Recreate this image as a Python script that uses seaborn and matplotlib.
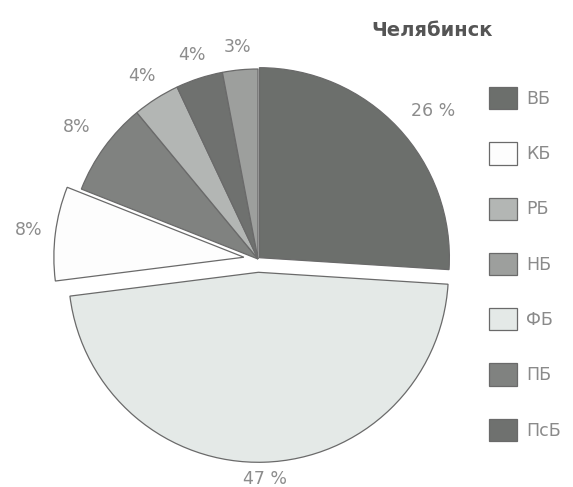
import numpy as np
import matplotlib
matplotlib.use("Agg")
import matplotlib.pyplot as plt
import seaborn as sns

# Budget structure shares, Chelyabinsk (slices clockwise from 12 o'clock)
slice_names = ["ВБ", "ФБ", "КБ", "ПБ", "РБ", "ПсБ", "НБ"]
slice_values = [26, 47, 8, 8, 4, 4, 3]

# Legend order
legend_names = ["ВБ", "КБ", "РБ", "НБ", "ФБ", "ПБ", "ПсБ"]

title_text = "Челябинск"

# Fill colours per category
colors = {
    "ВБ": "#6c6f6c",
    "ФБ": "#e4e9e7",
    "КБ": "#fdfdfd",
    "ПБ": "#808280",
    "РБ": "#b3b6b4",
    "ПсБ": "#6f716f",
    "НБ": "#9d9f9d",
}
explode_by_name = {"ВБ": 0.01, "ФБ": 0.07, "КБ": 0.075}
# radial distance and angular nudge (degrees) of each percentage label
label_radius = {"ВБ": 1.2, "ФБ": 1.09, "КБ": 1.14, "ПБ": 1.18,
                "РБ": 1.14, "ПсБ": 1.13, "НБ": 1.12}
label_turn = {"ВБ": -3}

sns.set_theme(style="white")
plt.rcParams["font.family"] = ["DejaVu Sans"]

W, H = 573, 487
fig = plt.figure(figsize=(W / 100, H / 100), dpi=100)

# square axes so that unit radius spans 190 px, centred at (258, 259) from top-left
L = 1.3
S = 2 * L * 190
cx, cy = 258, H - 259
ax = fig.add_axes([(cx - S / 2) / W, (cy - S / 2) / H, S / W, S / H])

wedges, _ = ax.pie(
    slice_values,
    colors=[colors[n] for n in slice_names],
    explode=[explode_by_name.get(n, 0) for n in slice_names],
    startangle=90,
    counterclock=False,
    radius=1,
    wedgeprops=dict(edgecolor="#6a6a6a", linewidth=0.9),
)
ax.set_xlim(-L, L)
ax.set_ylim(-L, L)
ax.set_aspect("equal")
ax.set_axis_off()

for w, name, v in zip(wedges, slice_names, slice_values):
    mid = np.deg2rad((w.theta1 + w.theta2) / 2 + label_turn.get(name, 0))
    x0, y0 = w.center
    d = label_radius[name]
    txt = f"{v} %" if v >= 20 else f"{v}%"
    ax.text(x0 + d * np.cos(mid), y0 + d * np.sin(mid), txt,
            ha="center", va="center", fontsize=12.5, color="#8c8c8c")

handles = [wedges[slice_names.index(n)] for n in legend_names]
leg = fig.legend(
    handles, legend_names,
    loc="upper left",
    bbox_to_anchor=(489 / W, 1 - 87 / H),
    frameon=False,
    fontsize=12.5,
    handlelength=1.6,
    handleheight=1.6,
    handletextpad=0.55,
    labelspacing=1.9,
    borderpad=0,
    borderaxespad=0,
)
for t in leg.get_texts():
    t.set_color("#8a8a8a")

fig.text(432 / W, 1 - 30 / H, title_text, ha="center", va="center",
         fontsize=14, fontweight="bold", color="#555555")

fig.savefig("out.png", dpi=100, facecolor="white")
